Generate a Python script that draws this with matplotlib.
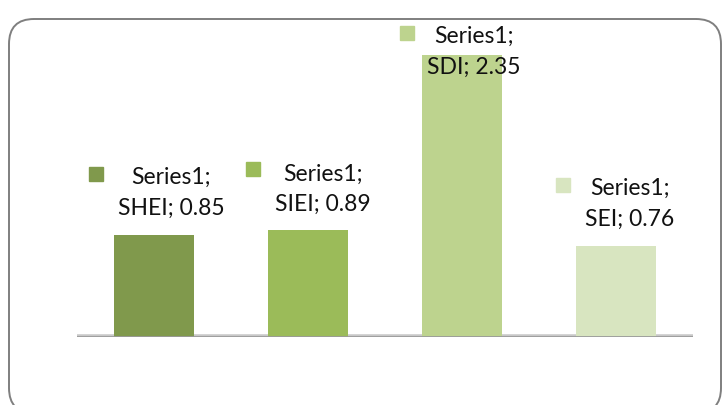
import matplotlib.pyplot as plt
from matplotlib.patches import FancyBboxPatch
from matplotlib.transforms import offset_copy

# data
series = "Series1"
categories = ["SHEI", "SIEI", "SDI", "SEI"]
values = [0.85, 0.89, 2.35, 0.76]
colors = ["#80994c", "#9bbb59", "#bdd38e", "#d8e5c0"]

# label offsets (pixels from bar top centre): text, then legend key
text_off = [(17, 43), (15, 42), (12, 4), (14, 43)]
key_off = [(-58, 61), (-55, 61), (-55, 22), (-53, 61)]

fig = plt.figure(figsize=(7.27, 4.06), dpi=100)
fig.patch.set_facecolor("white")

# rounded chart border (inches)
border = FancyBboxPatch((0.09, -0.08), 7.12, 3.94,
                        boxstyle="round,pad=0,rounding_size=0.25",
                        transform=fig.dpi_scale_trans, facecolor="none",
                        edgecolor="#7f7f7f", linewidth=1.4, zorder=5)
fig.patches.append(border)

W, H = 727, 406
ax = fig.add_axes([77 / W, 68 / H, 616 / W, 318 / H])
ax.set_facecolor("none")
ax.set_xlim(-0.5, 3.5)
ax.set_ylim(0, 318 / 120)

x = range(len(categories))
ax.bar(x, values, width=0.52, color=colors, zorder=2)

# baseline with light shadow
ax.axhline(0, color="#c8c8c8", linewidth=4, zorder=1)
ax.axhline(0, color="#9a9a9a", linewidth=2, zorder=3)

for i, (cat, val) in enumerate(zip(categories, values)):
    tdx, tdy = text_off[i]
    ax.annotate(f"{series};\n{cat}; {val:.2f}", (i, val),
                xytext=(tdx, tdy), textcoords="offset pixels",
                ha="center", va="center", fontsize=16.5, family="Lato",
                linespacing=1.55, color="#111111", zorder=4)
    kdx, kdy = key_off[i]
    tr = offset_copy(ax.transData, fig=fig, x=kdx, y=kdy, units="dots")
    ax.plot([i], [val], marker="s", markersize=10.5, color=colors[i],
            transform=tr, clip_on=False, zorder=4)

for s in ax.spines.values():
    s.set_visible(False)
ax.set_xticks([])
ax.set_yticks([])

fig.savefig("out.png", dpi=100)
